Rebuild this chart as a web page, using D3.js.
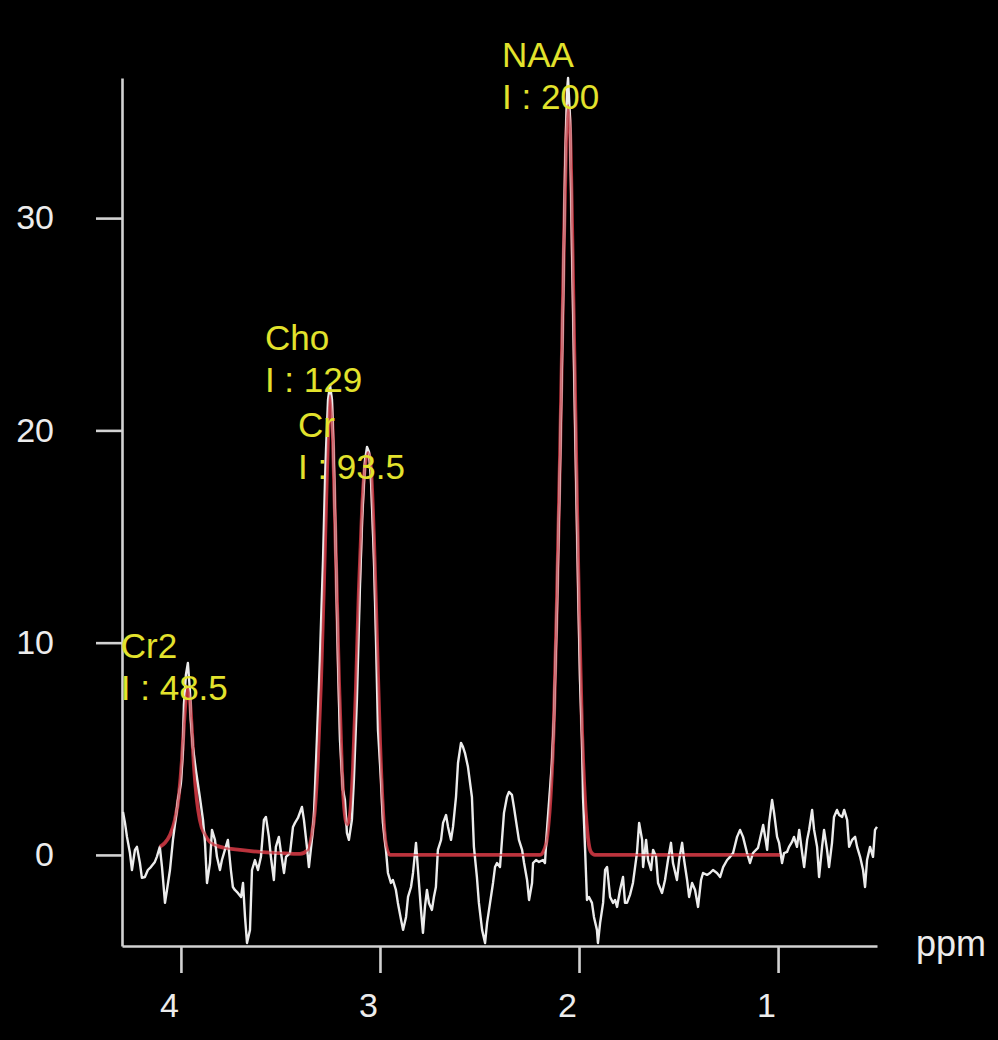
<!DOCTYPE html>
<html>
<head>
<meta charset="utf-8">
<script src="https://cdn.jsdelivr.net/npm/d3@7"></script>
<style>
  html, body { margin: 0; padding: 0; background: #000; }
  svg { display: block; }
</style>
</head>
<body>
<svg id="chart" width="998" height="1040"></svg>
<script>
// ---- Data ----
const specPpm = [4.291,4.281,4.271,4.256,4.246,4.231,4.221,4.206,4.196,4.181,4.166,4.151,4.131,4.121,4.106,4.095,4.080,4.070,4.055,4.040,4.025,4.015,4.000,3.990,3.985,3.975,3.965,3.955,3.950,3.940,3.925,3.905,3.889,3.879,3.869,3.854,3.844,3.829,3.819,3.804,3.794,3.779,3.764,3.749,3.739,3.729,3.714,3.698,3.688,3.678,3.668,3.653,3.643,3.628,3.613,3.598,3.583,3.573,3.558,3.548,3.533,3.523,3.508,3.497,3.482,3.472,3.452,3.437,3.427,3.412,3.392,3.382,3.367,3.357,3.342,3.332,3.317,3.302,3.286,3.276,3.271,3.261,3.251,3.241,3.231,3.221,3.211,3.201,3.186,3.176,3.166,3.156,3.141,3.131,3.116,3.101,3.090,3.075,3.065,3.055,3.045,3.030,3.020,3.010,2.995,2.985,2.970,2.960,2.945,2.935,2.920,2.910,2.894,2.884,2.869,2.859,2.844,2.834,2.819,2.809,2.794,2.784,2.774,2.764,2.754,2.739,2.729,2.719,2.709,2.693,2.683,2.668,2.658,2.643,2.633,2.618,2.608,2.593,2.583,2.573,2.558,2.538,2.528,2.513,2.503,2.487,2.472,2.462,2.447,2.432,2.422,2.412,2.397,2.387,2.377,2.362,2.352,2.337,2.327,2.312,2.302,2.286,2.276,2.261,2.251,2.236,2.231,2.216,2.201,2.181,2.171,2.161,2.151,2.136,2.126,2.111,2.095,2.080,2.070,2.060,2.055,2.045,2.035,2.020,2.005,1.995,1.985,1.980,1.970,1.960,1.950,1.935,1.925,1.910,1.905,1.894,1.879,1.869,1.859,1.844,1.829,1.819,1.809,1.794,1.779,1.769,1.759,1.744,1.729,1.709,1.698,1.683,1.678,1.663,1.653,1.638,1.628,1.613,1.603,1.583,1.568,1.553,1.538,1.528,1.508,1.497,1.482,1.472,1.457,1.447,1.432,1.417,1.402,1.387,1.377,1.357,1.342,1.327,1.307,1.291,1.276,1.256,1.241,1.226,1.206,1.191,1.176,1.156,1.141,1.126,1.101,1.075,1.065,1.055,1.045,1.030,1.020,1.005,0.995,0.980,0.970,0.955,0.945,0.930,0.920,0.905,0.894,0.879,0.869,0.854,0.844,0.829,0.819,0.804,0.794,0.779,0.769,0.754,0.744,0.729,0.719,0.704,0.693,0.678,0.668,0.653,0.643,0.628,0.613,0.603,0.588,0.573,0.563,0.553,0.538,0.523,0.513,0.503];
const specVal = [2.03,1.51,0.85,0.09,-0.71,0.24,0.38,-0.38,-1.08,-1.04,-0.71,-0.57,-0.33,-0.09,0.38,-0.57,-2.26,-1.65,-0.71,0.71,1.79,2.59,3.39,4.95,7.07,8.48,9.04,7.77,6.36,5.09,4.00,2.73,1.65,0.57,-1.32,-0.38,1.18,0.71,-0.09,-0.71,-0.24,0.24,0.71,-0.71,-1.51,-1.65,-1.79,-1.98,-1.32,-2.92,-4.15,-3.53,-0.71,-0.24,-0.71,-0.09,1.65,1.79,0.85,-0.09,-1.18,0.38,0.85,0.09,-0.85,-0.09,0.09,1.32,1.51,1.74,2.26,1.65,0.38,-0.57,0.71,1.79,5.42,9.19,13.90,17.66,19.08,21.43,22.14,21.43,18.13,13.90,9.19,5.42,3.06,2.59,1.04,0.71,1.65,3.53,7.30,12.48,15.78,18.61,19.22,18.98,17.66,13.90,10.13,5.89,3.53,1.51,0.24,-0.85,-1.32,-1.18,-1.65,-2.26,-3.06,-3.53,-2.92,-1.98,-1.51,-0.85,0.57,-0.71,-2.59,-3.67,-2.45,-1.65,-2.26,-2.59,-1.98,-1.51,0.24,0.71,1.51,1.88,1.32,0.71,1.32,2.73,4.33,5.28,5.09,4.80,4.15,2.73,0.38,-1.04,-2.26,-3.53,-4.15,-3.20,-2.26,-1.32,-0.57,-0.38,-0.57,0.71,1.98,2.73,2.97,2.83,2.26,1.32,0.71,0.24,-0.38,-1.18,-2.12,-1.32,-0.38,-0.24,-0.33,-0.24,-0.38,1.18,2.45,4.33,6.36,11.54,18.61,26.14,32.27,36.03,36.60,34.62,28.50,20.49,12.95,8.24,5.42,2.73,0.38,-2.12,-1.98,-2.26,-2.92,-3.53,-4.15,-3.20,-2.26,-0.71,-0.57,-1.98,-2.26,-2.12,-2.45,-1.65,-1.04,-2.26,-2.26,-1.88,-1.32,0.09,1.51,0.71,-0.57,0.71,-0.24,-0.71,0.24,-0.09,-1.32,-1.79,-1.18,-0.24,0.57,-0.38,-1.18,-0.24,0.57,-0.24,-1.18,-1.98,-1.32,-1.65,-2.45,-1.18,-0.85,-0.94,-0.85,-0.71,-0.85,-1.04,-0.57,-0.24,-0.09,0.09,0.85,1.18,0.85,0.09,-0.38,0.09,0.33,1.41,0.85,0.24,1.51,2.59,1.98,0.85,0.57,-0.38,0.09,0.14,0.38,0.61,0.85,0.38,1.18,0.09,-0.57,0.71,1.18,2.12,1.18,0.38,-1.04,0.38,1.18,0.24,-0.57,0.57,1.79,2.12,1.88,1.79,2.12,1.65,0.38,0.71,0.85,0.38,-0.09,-0.71,-1.51,-0.24,0.38,-0.09,1.18,1.32];

const fitPpm = [4.106,4.080,4.055,4.030,4.010,3.995,3.985,3.975,3.965,3.955,3.945,3.935,3.920,3.905,3.879,3.854,3.829,3.779,3.704,3.603,3.503,3.402,3.362,3.342,3.327,3.312,3.296,3.281,3.266,3.251,3.236,3.221,3.206,3.191,3.176,3.166,3.151,3.136,3.121,3.106,3.090,3.075,3.060,3.045,3.030,3.015,3.000,2.985,2.970,2.950,2.196,2.171,2.156,2.141,2.126,2.111,2.095,2.080,2.065,2.055,2.045,2.030,2.015,2.000,1.985,1.970,1.955,1.940,1.920,0.990];
const fitVal = [0.38,0.57,0.94,1.65,2.83,4.47,6.12,7.40,7.87,7.30,5.89,4.24,2.59,1.65,0.94,0.61,0.47,0.33,0.24,0.14,0.09,0.05,0.24,0.94,2.12,4.47,8.24,12.95,18.13,21.67,19.55,13.90,8.24,4.00,1.88,1.41,1.88,4.00,7.77,12.48,16.25,18.37,18.98,18.13,14.84,10.13,5.42,2.12,0.47,0.00,0.00,0.33,1.18,3.06,6.36,12.01,19.08,26.61,33.68,35.33,34.15,27.08,19.08,11.54,5.89,2.59,0.80,0.14,0.00,0.00];

const yTicks = [0, 10, 20, 30];
const xTicks = [4, 3, 2, 1];
const xLabel = "ppm";

const peakNames = ["Cr2", "Cho", "Cr", "NAA"];
const peakIntegrals = ["48.5", "129", "93.5", "200"];
const peakLabelPpm = [4.302, 3.578, 3.412, 2.387];
const peakLabelVal = [9.28, 23.79, 19.69, 37.12];

// ---- Layout ----
const svg = d3.select("#chart");
svg.append("rect").attr("width", 998).attr("height", 1040).attr("fill", "#000");

const x = d3.scaleLinear().domain([4.296, 0.503]).range([122, 877]);
const y = d3.scaleLinear().domain([-4.29, 36.6]).range([946, 78]);

const axisColor = "#d2d2d2";
const font = "'Liberation Sans', Arial, Helvetica, sans-serif";

// Y axis
const yAxis = svg.append("g").attr("transform", "translate(122,0)")
  .call(d3.axisLeft(y).tickValues(yTicks).tickSize(26).tickSizeOuter(0).tickPadding(42).tickFormat(d3.format("d")));
// X axis
const xAxis = svg.append("g").attr("transform", "translate(0,946)")
  .call(d3.axisBottom(x).tickValues(xTicks).tickSize(27).tickSizeOuter(0).tickPadding(20).tickFormat(d3.format("d")));

[yAxis, xAxis].forEach(g => {
  g.select(".domain").attr("stroke", axisColor).attr("stroke-width", 2.6);
  g.selectAll(".tick line").attr("stroke", axisColor).attr("stroke-width", 2.6);
  g.selectAll(".tick text").attr("fill", "#ececec").attr("font-size", 34).attr("font-family", font);
});
xAxis.selectAll(".tick text").attr("dx", -12);

svg.append("text").attr("x", 916).attr("y", 956).text(xLabel)
  .attr("fill", "#ececec").attr("font-size", 36).attr("font-family", font);

// Spectrum (white) and fit (red)
const specData = specPpm.map((p, i) => [p, specVal[i]]);
const fitData = fitPpm.map((p, i) => [p, fitVal[i]]);

const lineLin = d3.line().x(d => x(d[0])).y(d => y(d[1]));
const lineFit = d3.line().x(d => x(d[0])).y(d => y(d[1])).curve(d3.curveMonotoneX);

svg.append("path").datum(fitData).attr("d", lineFit)
  .attr("fill", "none").attr("stroke", "#b3303a").attr("stroke-width", 3.8);
svg.append("path").datum(specData).attr("d", lineLin)
  .attr("fill", "none").attr("stroke", "#ececec").attr("stroke-width", 2.4)
  .attr("stroke-linejoin", "round");
svg.append("path").datum(fitData).attr("d", lineFit)
  .attr("fill", "none").attr("stroke", "#c0363f").attr("stroke-width", 2).attr("stroke-opacity", 0.7);

// Peak annotations
const ann = svg.append("g").attr("font-family", font).attr("font-size", 35).attr("fill", "#e2e22c");
peakNames.forEach((n, i) => {
  const t = ann.append("text").attr("x", x(peakLabelPpm[i])).attr("y", y(peakLabelVal[i]));
  t.append("tspan").attr("x", x(peakLabelPpm[i])).text(n);
  t.append("tspan").attr("x", x(peakLabelPpm[i])).attr("dy", 42).text("I : " + peakIntegrals[i]);
});
</script>
</body>
</html>
